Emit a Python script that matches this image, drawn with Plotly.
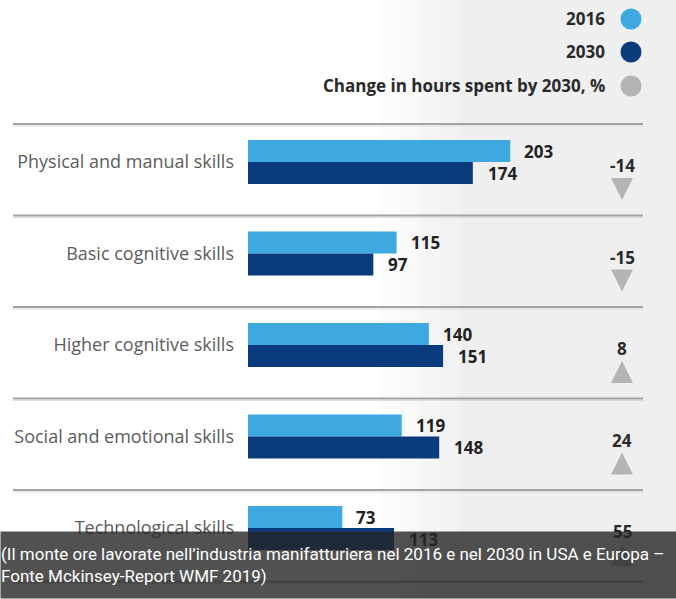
import plotly.graph_objects as go

# ---------------- data ----------------
categories = [
    "Physical and manual skills",
    "Basic cognitive skills",
    "Higher cognitive skills",
    "Social and emotional skills",
    "Technological skills",
]
hours_2016 = [203, 115, 140, 119, 73]
hours_2030 = [174, 97, 151, 148, 113]
change_pct = [-14, -15, 8, 24, 55]

legend_labels = ["2016", "2030", "Change in hours spent by 2030, %"]
caption = ("(Il monte ore lavorate nell’industria manifatturiera nel 2016 e nel 2030 in USA e Europa –"
           "<br>Fonte Mckinsey-Report WMF 2019)")

# ---------------- style / layout ----------------
W, H = 676, 599
C2016 = "#3ea9e0"
C2030 = "#0a3b7c"
CGRAY = "#b4b4b4"
X0_PX = 248           # pixel where value 0 sits
PX_PER_UNIT = 1.292   # pixels per hour unit
ROW0_PX = 162         # pixel of first row centre
ROW_PX = 91.5         # row pitch
BAR_H = 22 / ROW_PX
CHANGE_X = (622 - X0_PX) / PX_PER_UNIT

def ypx(py):
    return (py - ROW0_PX) / ROW_PX

idx = list(range(len(categories)))

fig = go.Figure()
fig.add_trace(go.Bar(x=hours_2016, y=idx, orientation="h", width=BAR_H, offset=-BAR_H,
                     marker=dict(color=C2016, line=dict(width=0)), hoverinfo="skip"))
fig.add_trace(go.Bar(x=hours_2030, y=idx, orientation="h", width=BAR_H, offset=0,
                     marker=dict(color=C2030, line=dict(width=0)), hoverinfo="skip"))

# change arrows
fig.add_trace(go.Scatter(
    x=[CHANGE_X] * len(change_pct),
    y=[i + (38 if c < 0 else 16) / ROW_PX for i, c in zip(idx, change_pct)],
    mode="markers",
    marker=dict(symbol=["arrow-down" if c < 0 else "arrow-up" for c in change_pct],
                size=22, color=CGRAY, line=dict(width=0)),
    cliponaxis=False, hoverinfo="skip"))

shapes = []
# background shading on the right
steps = [(380, "#fcfcfc"), (400, "#f9f9f9"), (420, "#f5f5f5"), (440, "#f2f2f2"), (460, "#efefef")]
for k, (xs, col) in enumerate(steps):
    xe = steps[k + 1][0] if k + 1 < len(steps) else W
    shapes.append(dict(type="rect", xref="paper", yref="paper", x0=xs / W, x1=xe / W,
                       y0=0, y1=1, fillcolor=col, line=dict(width=0), layer="below"))
# separators
for i in range(len(categories) + 1):
    y = i - 38 / ROW_PX
    shapes.append(dict(type="line", xref="paper", yref="y", x0=13 / W, x1=643 / W,
                       y0=y, y1=y, line=dict(color="#a3a3a3", width=2), layer="below"))
    shapes.append(dict(type="line", xref="paper", yref="y", x0=13 / W, x1=643 / W,
                       y0=y + 2 / ROW_PX, y1=y + 2 / ROW_PX,
                       line=dict(color="#dcdcdc", width=1), layer="below"))
# legend circles
legend_colors = [C2016, C2030, CGRAY]
legend_y = [19, 52, 86]
for col, py in zip(legend_colors, legend_y):
    shapes.append(dict(type="circle", xref="paper", yref="paper",
                       x0=(631 - 10.5) / W, x1=(631 + 10.5) / W,
                       y0=1 - (py + 10.5) / H, y1=1 - (py - 10.5) / H,
                       fillcolor=col, line=dict(width=0)))

annotations = []
VAL_FONT = dict(family="Open Sans", size=17, color="#222222")
for i, v in zip(idx, hours_2016):
    annotations.append(dict(x=v, y=i - BAR_H / 2, xref="x", yref="y", text=f"<b>{v}</b>",
                            showarrow=False, xanchor="left", yanchor="middle", xshift=12,
                            font=VAL_FONT))
for i, v in zip(idx, hours_2030):
    annotations.append(dict(x=v, y=i + BAR_H / 2, xref="x", yref="y", text=f"<b>{v}</b>",
                            showarrow=False, xanchor="left", yanchor="middle", xshift=13,
                            font=VAL_FONT))
for i, c in zip(idx, change_pct):
    annotations.append(dict(x=CHANGE_X, y=i + 3.5 / ROW_PX, xref="x", yref="y", text=f"<b>{c}</b>",
                            showarrow=False, xanchor="center", yanchor="middle",
                            font=dict(family="Open Sans", size=17, color="#2a2a2a")))
for lab, py in zip(legend_labels, legend_y):
    annotations.append(dict(x=607 / W, y=1 - py / H, xref="paper", yref="paper",
                            text=f"<b>{lab}</b>", showarrow=False, xanchor="right",
                            yanchor="middle",
                            font=dict(family="Open Sans", size=17, color="#2a2a2a")))
# caption overlay (drawn last, on top)
annotations.append(dict(x=0, y=0, xref="paper", yref="paper", text=caption,
                        showarrow=False, xanchor="left", yanchor="bottom", align="left",
                        valign="middle", width=W, height=66, borderpad=0,
                        bgcolor="rgba(38,38,38,0.8)",
                        font=dict(family="Roboto", size=17, color="#ffffff")))

fig.update_layout(
    width=W, height=H, margin=dict(l=0, r=0, t=0, b=0),
    paper_bgcolor="#ffffff", plot_bgcolor="rgba(0,0,0,0)",
    showlegend=False, barmode="overlay",
    xaxis=dict(domain=[X0_PX / W, 1], range=[0, (W - X0_PX) / PX_PER_UNIT],
               visible=False, fixedrange=True),
    yaxis=dict(range=[ypx(H), ypx(0)], tickvals=idx, ticktext=categories, ticks="",
               ticklabelstandoff=13, showgrid=False, zeroline=False, showline=False,
               automargin=False,
               tickfont=dict(family="Open Sans", size=18, color="#5c5c5c")),
    shapes=shapes, annotations=annotations,
)

fig.write_html("out.html")
